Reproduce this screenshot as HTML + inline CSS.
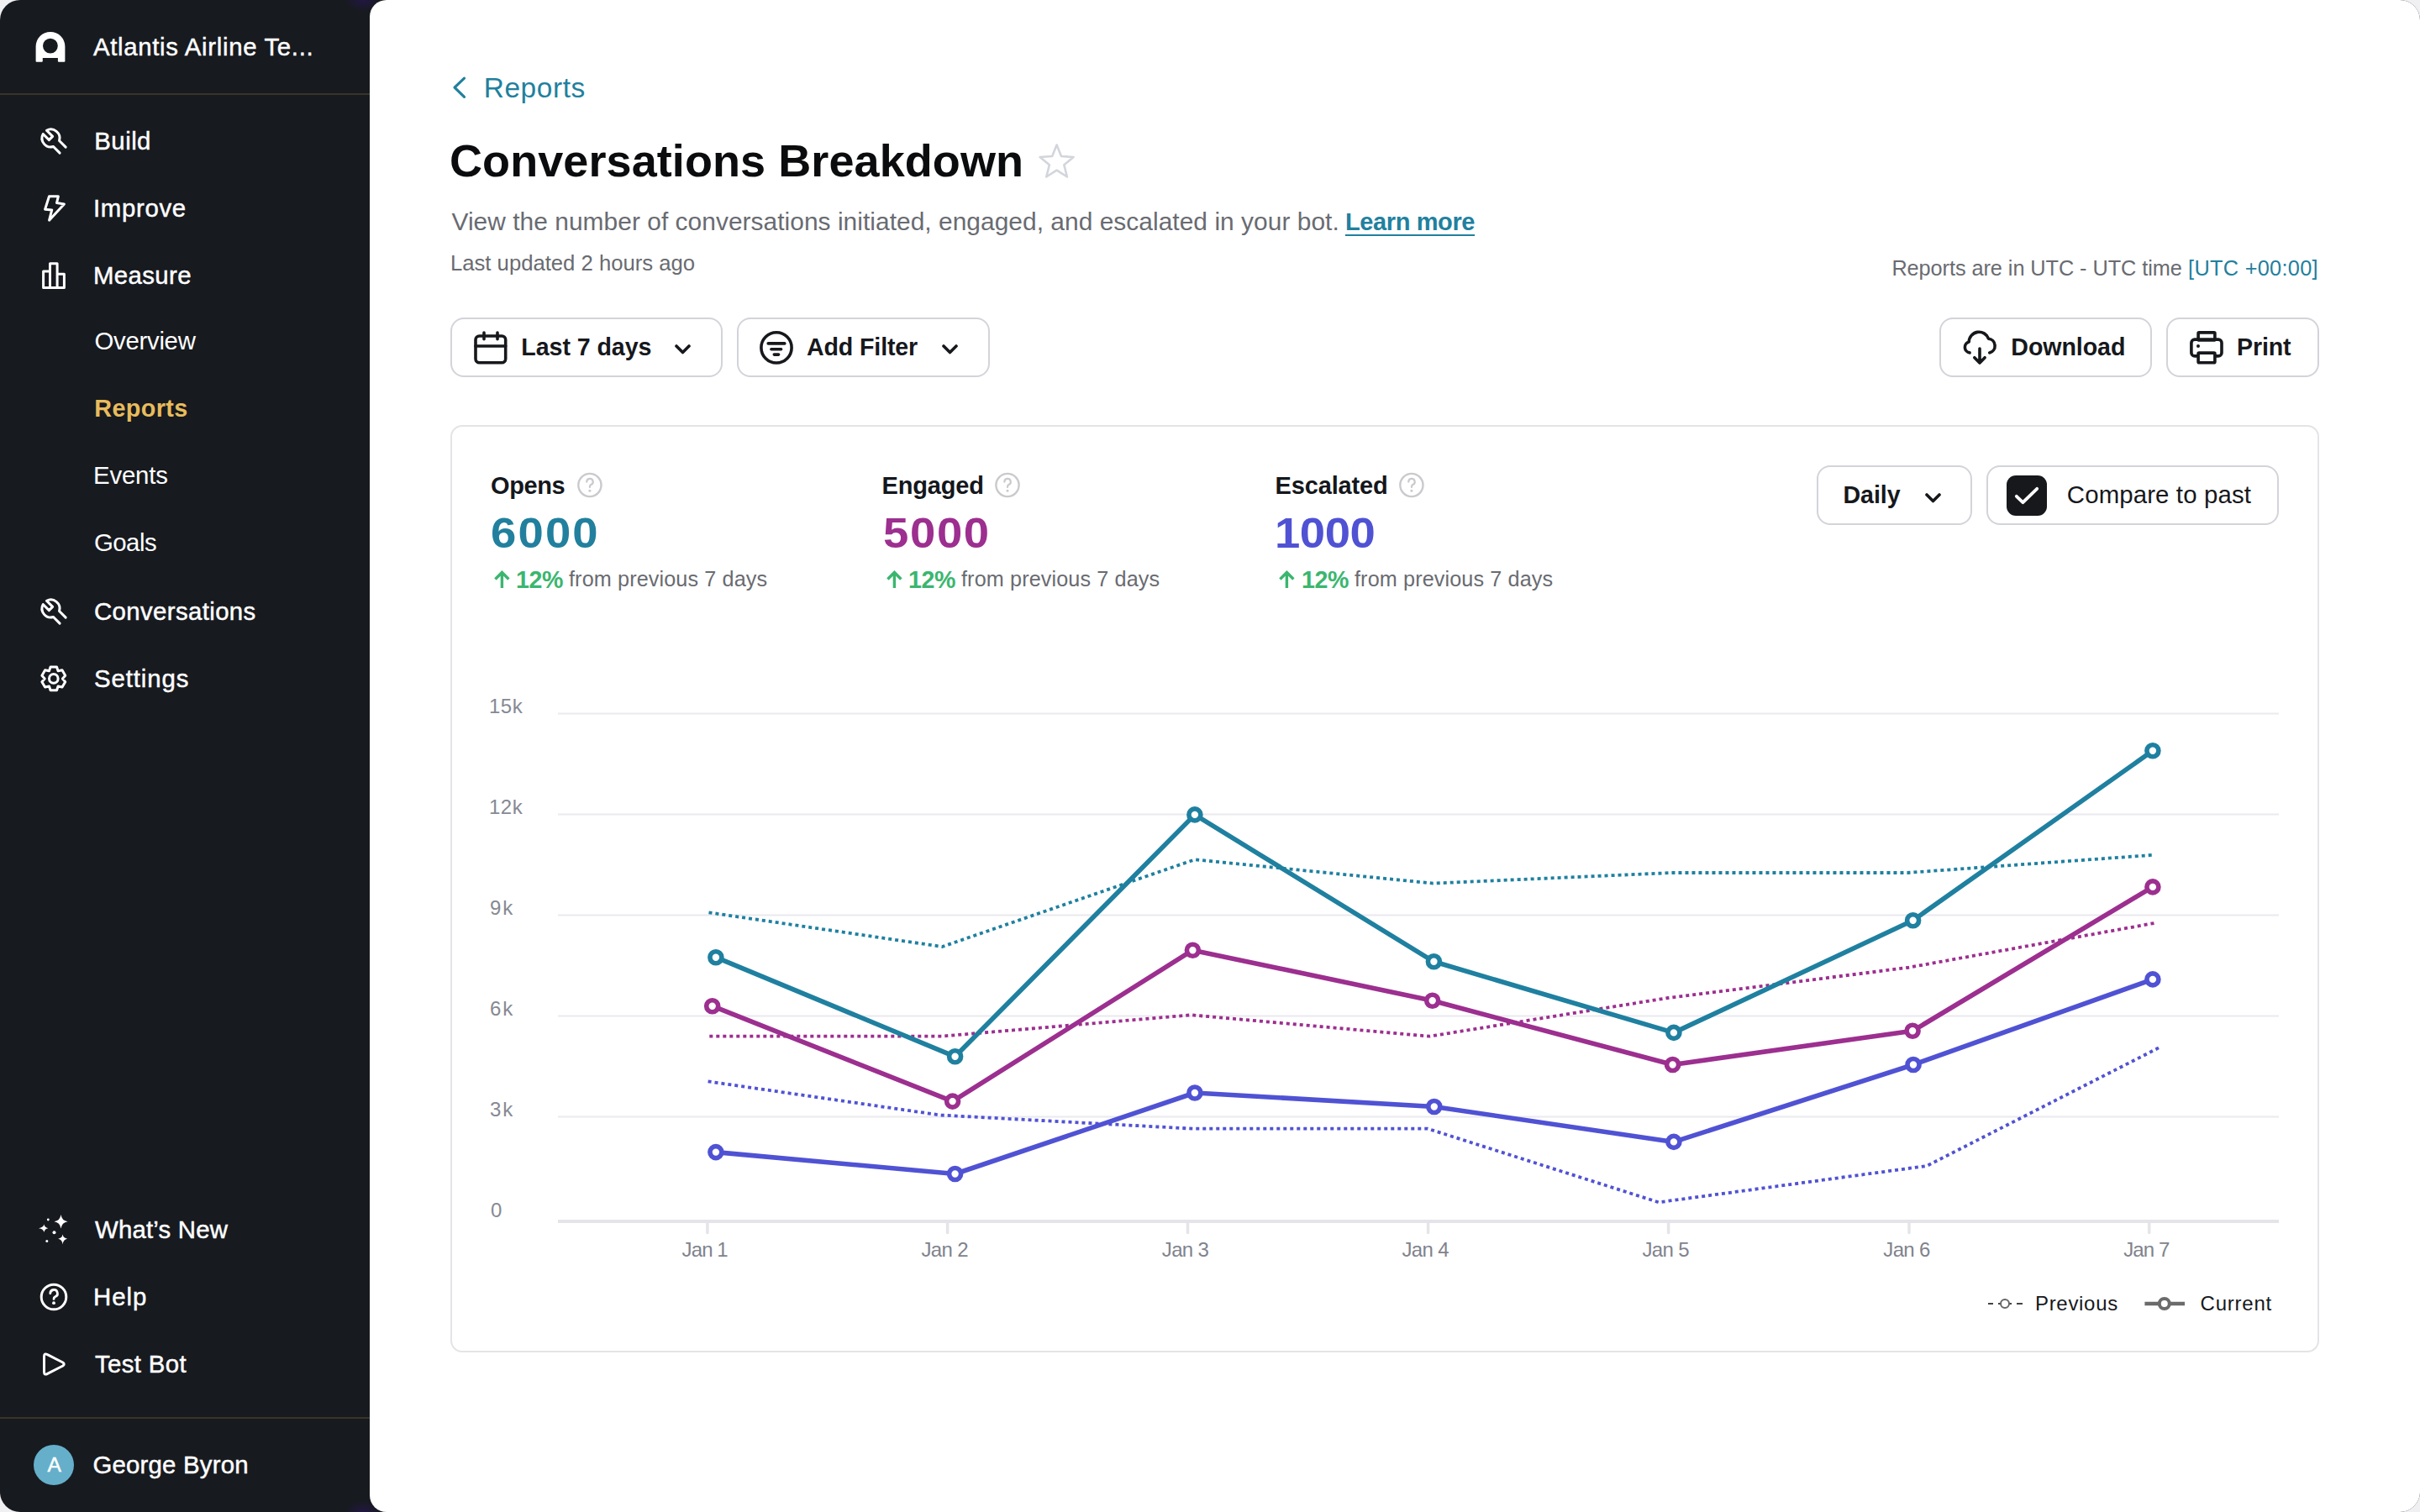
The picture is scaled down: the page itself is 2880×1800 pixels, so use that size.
<!DOCTYPE html><html><head><meta charset="utf-8"><title>Conversations Breakdown</title><style>
*{margin:0;padding:0;box-sizing:border-box}
html,body{width:2880px;height:1800px;overflow:hidden;background:#f0f0f2}
body{font-family:"Liberation Sans",Arial,sans-serif;position:relative}
.app{position:absolute;left:0;top:0;width:2880px;height:1800px;border-radius:24px;overflow:hidden;background:#171a1f}
.main{position:absolute;left:440px;top:0;width:2440px;height:1800px;background:#fff;border-radius:20px 0 0 20px}
.t{position:absolute;line-height:1;white-space:nowrap}
.bl{display:inline-block;width:0;height:0;vertical-align:baseline}
.btn{position:absolute;border:2px solid #d3d3da;border-radius:16px;background:#fff}
.card{position:absolute;left:536px;top:506px;width:2224px;height:1104px;border:2px solid #e4e4e7;border-radius:14px;background:#fff}
svg{position:absolute;overflow:visible}
@media (max-width:2000px){html{zoom:0.5}}
</style></head><body>
<div class="app">
<svg style="left:0;top:0" width="440" height="1800" viewBox="0 0 440 1800">
<path fill="#fff" fill-rule="evenodd" d="M42.6,72.7 L42.6,55.3 A17.4,17.4 0 0 1 77.4,55.3 L77.4,72.7 Q77.4,73.7 76.4,73.7 L69.9,73.7 Q68.9,73.7 68.9,72.7 L68.9,69 L50.8,69 L50.8,72.7 Q50.8,73.7 49.8,73.7 L43.6,73.7 Q42.6,73.7 42.6,72.7 Z M68.8,54.6 A8.9,8.9 0 1 0 51,54.6 A8.9,8.9 0 1 0 68.8,54.6 Z"/>
<rect x="0" y="111" width="440" height="2" fill="#3a3428"/>
<rect x="0" y="1687" width="440" height="2" fill="#3a3428"/>
<g fill="none" stroke="#fff" stroke-width="3" stroke-linecap="round" stroke-linejoin="round">
<g transform="translate(60.5,164.5) rotate(45)"><path d="M-10.06,-3 L0,-3 L0,3 L-10.06,3 M-10.06,-3 A10.5,10.5 0 0 1 9.23,-5 M-10.06,3 A10.5,10.5 0 0 0 9.23,5 M9.23,-5 L20,-5 M9.23,5 L20,5"/></g>
<path d="M58.5,233.7 L69.4,233.7 L67.5,241.6 L76.4,242.9 L58.6,262.2 L61.7,249.9 L53.6,249.2 Z"/>
<path d="M51.6,342.5 V323.1 H59.5 V342.5 Z M59.5,342.5 V313.7 H68.1 V342.5 Z M68.1,342.5 V326.3 H76.4 V342.5 Z"/>
<g transform="translate(60.5,724.5) rotate(45)"><path d="M-10.06,-3 L0,-3 L0,3 L-10.06,3 M-10.06,-3 A10.5,10.5 0 0 1 9.23,-5 M-10.06,3 A10.5,10.5 0 0 0 9.23,5 M9.23,-5 L20,-5 M9.23,5 L20,5"/></g>
<path d="M60.07,793.99 L67.53,793.99 L69.10,798.72 L73.98,797.72 L77.71,804.17 L74.40,807.90 L77.71,811.63 L73.98,818.08 L69.10,817.08 L67.53,821.81 L60.07,821.81 L58.50,817.08 L53.62,818.08 L49.89,811.63 L53.20,807.90 L49.89,804.17 L53.62,797.72 L58.50,798.72 Z"/>
<circle cx="63.8" cy="807.9" r="5.3"/>
<circle cx="64" cy="1544" r="14.8"/>
<path d="M59.8,1539.8 A4.3,4.3 0 1 1 65.6,1543.8 Q64,1544.6 64,1546.4" stroke-width="2.8"/>
<path d="M56.5,1612.6 Q52.5,1610.4 52.5,1615 L52.5,1633 Q52.5,1637.6 56.5,1635.4 L74.8,1626 Q77.6,1624 74.8,1622 Z"/>
</g>
<circle cx="64" cy="1551.2" r="1.9" fill="#fff"/>
<g fill="#fff">
<path d="M72.5,1446 Q73.6,1453.3 80.6,1454.2 Q73.6,1455.2 72.5,1462.6 Q71.4,1455.2 64.5,1454.2 Q71.4,1453.3 72.5,1446 Z"/>
<path d="M74.6,1469.5 Q75.3,1474 80.2,1474.7 Q75.3,1475.4 74.6,1481.4 Q73.9,1475.4 69.2,1474.7 Q73.9,1474 74.6,1469.5 Z"/>
<path d="M52.4,1457.6 Q53.1,1461.4 57.4,1462.2 Q53.1,1463 52.4,1467 Q51.7,1463 46,1462.2 Q51.7,1461.4 52.4,1457.6 Z"/>
<circle cx="57.3" cy="1452" r="1.4"/><circle cx="64.5" cy="1467.2" r="2"/><circle cx="55.8" cy="1477.4" r="1.5"/>
</g>
<circle cx="64" cy="1744" r="24" fill="#66afcb"/>
</svg>
<div style="position:absolute;left:410px;top:0;width:44px;height:14px;background:radial-gradient(ellipse at 50% 0%,rgba(45,20,100,0.5),rgba(45,20,100,0) 70%)"></div>
<div style="position:absolute;left:410px;top:1786px;width:44px;height:14px;background:radial-gradient(ellipse at 50% 100%,rgba(45,20,100,0.5),rgba(45,20,100,0) 70%)"></div>
<div class="main"></div>
<div class="btn" style="left:536px;top:378px;width:324px;height:71px"></div>
<div class="btn" style="left:877px;top:378px;width:301px;height:71px"></div>
<div class="btn" style="left:2308px;top:378px;width:253px;height:71px"></div>
<div class="btn" style="left:2578px;top:378px;width:182px;height:71px"></div>
<div class="card"></div>
<div class="btn" style="left:2162px;top:554px;width:185px;height:71px"></div>
<div class="btn" style="left:2364px;top:554px;width:348px;height:71px"></div>
<div id="atl" class="t" style="left:110.90px;top:41.00px;font-size:29.4px;color:#ffffff;letter-spacing:0.667px;-webkit-text-stroke:0.45px #fff;">Atlantis Airline Te...<span class="bl"></span></div>
<div id="build" class="t" style="left:112.30px;top:153.00px;font-size:29.4px;color:#ffffff;letter-spacing:0.450px;-webkit-text-stroke:0.45px #fff;">Build<span class="bl"></span></div>
<div id="impr" class="t" style="left:111.00px;top:233.00px;font-size:29.4px;color:#ffffff;letter-spacing:0.667px;-webkit-text-stroke:0.45px #fff;">Improve<span class="bl"></span></div>
<div id="meas" class="t" style="left:111.00px;top:313.00px;font-size:29.4px;color:#ffffff;letter-spacing:0.367px;-webkit-text-stroke:0.45px #fff;">Measure<span class="bl"></span></div>
<div id="over" class="t" style="left:112.50px;top:391.00px;font-size:29.4px;color:#ffffff;letter-spacing:-0.300px;">Overview<span class="bl"></span></div>
<div id="repS" class="t" style="left:112.30px;top:472.01px;font-size:28.8px;color:#e8bc5d;font-weight:700;letter-spacing:0.367px;">Reports<span class="bl"></span></div>
<div id="evts" class="t" style="left:111.00px;top:551.00px;font-size:29.4px;color:#ffffff;letter-spacing:-0.200px;">Events<span class="bl"></span></div>
<div id="goals" class="t" style="left:112.00px;top:631.00px;font-size:29.4px;color:#ffffff;letter-spacing:-0.550px;">Goals<span class="bl"></span></div>
<div id="conv" class="t" style="left:112.00px;top:713.00px;font-size:29.4px;color:#ffffff;letter-spacing:0.367px;-webkit-text-stroke:0.45px #fff;">Conversations<span class="bl"></span></div>
<div id="sett" class="t" style="left:112.00px;top:793.00px;font-size:29.4px;color:#ffffff;letter-spacing:0.886px;-webkit-text-stroke:0.45px #fff;">Settings<span class="bl"></span></div>
<div id="new" class="t" style="left:113.00px;top:1449.00px;font-size:29.4px;color:#ffffff;letter-spacing:0.189px;-webkit-text-stroke:0.45px #fff;">What’s New<span class="bl"></span></div>
<div id="help" class="t" style="left:111.00px;top:1529.00px;font-size:29.4px;color:#ffffff;letter-spacing:0.967px;-webkit-text-stroke:0.45px #fff;">Help<span class="bl"></span></div>
<div id="test" class="t" style="left:113.00px;top:1609.00px;font-size:29.4px;color:#ffffff;letter-spacing:0.343px;-webkit-text-stroke:0.45px #fff;">Test Bot<span class="bl"></span></div>
<div id="geo" class="t" style="left:110.40px;top:1729.00px;font-size:29.4px;color:#ffffff;letter-spacing:0.200px;-webkit-text-stroke:0.45px #fff;">George Byron<span class="bl"></span></div>
<div id="crumb" class="t" style="left:575.70px;top:88.01px;font-size:33.4px;color:#21809e;letter-spacing:0.600px;">Reports<span class="bl"></span></div>
<div id="title" class="t" style="left:535.00px;top:164.01px;font-size:54px;color:#0b0c0e;font-weight:700;letter-spacing:0.082px;">Conversations Breakdown<span class="bl"></span></div>
<div id="desc" class="t" style="left:537.50px;top:249.00px;font-size:29.9px;color:#696b71;letter-spacing:0.042px;">View the number of conversations initiated, engaged, and escalated in your bot.<span class="bl"></span></div>
<div id="learn" class="t" style="left:1600.90px;top:250.01px;font-size:29px;color:#21809e;font-weight:700;letter-spacing:-0.378px;text-decoration:underline;text-decoration-thickness:2px;text-underline-offset:5px;">Learn more<span class="bl"></span></div>
<div id="upd" class="t" style="left:536.00px;top:301.01px;font-size:25.7px;color:#696b71;letter-spacing:-0.014px;">Last updated 2 hours ago<span class="bl"></span></div>
<div id="utc" class="t" style="left:2251.40px;top:307.01px;font-size:25.3px;color:#696b71;letter-spacing:-0.063px;">Reports are in UTC - UTC time<span class="bl"></span></div>
<div id="utc2" class="t" style="left:2604.10px;top:307.01px;font-size:25.3px;color:#21809e;letter-spacing:0.298px;">[UTC +00:00]<span class="bl"></span></div>
<div id="l7" class="t" style="left:620.30px;top:399.01px;font-size:28.6px;color:#16181c;font-weight:700;letter-spacing:-0.060px;">Last 7 days<span class="bl"></span></div>
<div id="filt" class="t" style="left:960.00px;top:399.01px;font-size:28.6px;color:#16181c;font-weight:700;letter-spacing:-0.133px;">Add Filter<span class="bl"></span></div>
<div id="down" class="t" style="left:2393.30px;top:399.01px;font-size:28.6px;color:#16181c;font-weight:700;letter-spacing:-0.071px;">Download<span class="bl"></span></div>
<div id="print" class="t" style="left:2662.00px;top:399.01px;font-size:28.6px;color:#16181c;font-weight:700;letter-spacing:-0.150px;">Print<span class="bl"></span></div>
<div id="opens" class="t" style="left:584.00px;top:564.01px;font-size:29px;color:#14171c;font-weight:700;letter-spacing:-0.400px;">Opens<span class="bl"></span></div>
<div id="eng" class="t" style="left:1049.60px;top:564.01px;font-size:29px;color:#14171c;font-weight:700;letter-spacing:-0.167px;">Engaged<span class="bl"></span></div>
<div id="esc" class="t" style="left:1517.50px;top:564.01px;font-size:29px;color:#14171c;font-weight:700;letter-spacing:-0.150px;">Escalated<span class="bl"></span></div>
<div id="v1" class="t" style="left:583.60px;top:610.00px;font-size:50px;color:#21809e;font-weight:700;letter-spacing:1.967px;transform:scaleX(1.09);transform-origin:0 0;">6000<span class="bl"></span></div>
<div id="v2" class="t" style="left:1050.50px;top:610.00px;font-size:50px;color:#9c2f8f;font-weight:700;letter-spacing:1.500px;transform:scaleX(1.09);transform-origin:0 0;">5000<span class="bl"></span></div>
<div id="v3" class="t" style="left:1516.50px;top:610.00px;font-size:50px;color:#5052d4;font-weight:700;letter-spacing:-0.433px;transform:scaleX(1.09);transform-origin:0 0;">1000<span class="bl"></span></div>
<div id="p0" class="t" style="left:614.00px;top:676.01px;font-size:28.6px;color:#3bb66f;font-weight:700;letter-spacing:-0.400px;">12%<span class="bl"></span></div>
<div id="f0" class="t" style="left:677.00px;top:677.01px;font-size:25.2px;color:#696b71;letter-spacing:0.126px;">from previous 7 days<span class="bl"></span></div>
<div id="p1" class="t" style="left:1081.00px;top:676.01px;font-size:28.6px;color:#3bb66f;font-weight:700;letter-spacing:-0.400px;">12%<span class="bl"></span></div>
<div id="f1" class="t" style="left:1144.00px;top:677.01px;font-size:25.2px;color:#696b71;letter-spacing:0.126px;">from previous 7 days<span class="bl"></span></div>
<div id="p2" class="t" style="left:1549.00px;top:676.01px;font-size:28.6px;color:#3bb66f;font-weight:700;letter-spacing:-0.400px;">12%<span class="bl"></span></div>
<div id="f2" class="t" style="left:1612.00px;top:677.01px;font-size:25.2px;color:#696b71;letter-spacing:0.126px;">from previous 7 days<span class="bl"></span></div>
<div id="daily" class="t" style="left:2193.50px;top:575.01px;font-size:28.6px;color:#16181c;font-weight:700;letter-spacing:-0.050px;">Daily<span class="bl"></span></div>
<div id="cmp" class="t" style="left:2459.80px;top:574.00px;font-size:29.4px;color:#16181c;letter-spacing:0.129px;">Compare to past<span class="bl"></span></div>
<div id="y0" class="t" style="left:582.00px;top:829.01px;font-size:24px;color:#868993;letter-spacing:0.500px;">15k<span class="bl"></span></div>
<div id="y1" class="t" style="left:582.00px;top:949.01px;font-size:24px;color:#868993;letter-spacing:0.500px;">12k<span class="bl"></span></div>
<div id="y2" class="t" style="left:583.00px;top:1069.01px;font-size:24px;color:#868993;letter-spacing:2.000px;">9k<span class="bl"></span></div>
<div id="y3" class="t" style="left:583.00px;top:1189.01px;font-size:24px;color:#868993;letter-spacing:2.000px;">6k<span class="bl"></span></div>
<div id="y4" class="t" style="left:583.00px;top:1309.01px;font-size:24px;color:#868993;letter-spacing:2.000px;">3k<span class="bl"></span></div>
<div id="y5" class="t" style="left:584.00px;top:1429.01px;font-size:24px;color:#868993;">0<span class="bl"></span></div>
<div id="x0" class="t" style="left:811.60px;top:1476.01px;font-size:24px;color:#80838d;letter-spacing:-0.900px;">Jan 1<span class="bl"></span></div>
<div id="x1" class="t" style="left:1096.50px;top:1476.01px;font-size:24px;color:#80838d;letter-spacing:-0.650px;">Jan 2<span class="bl"></span></div>
<div id="x2" class="t" style="left:1382.80px;top:1476.01px;font-size:24px;color:#80838d;letter-spacing:-0.650px;">Jan 3<span class="bl"></span></div>
<div id="x3" class="t" style="left:1668.50px;top:1476.01px;font-size:24px;color:#80838d;letter-spacing:-0.650px;">Jan 4<span class="bl"></span></div>
<div id="x4" class="t" style="left:1954.50px;top:1476.01px;font-size:24px;color:#80838d;letter-spacing:-0.650px;">Jan 5<span class="bl"></span></div>
<div id="x5" class="t" style="left:2241.30px;top:1476.01px;font-size:24px;color:#80838d;letter-spacing:-0.650px;">Jan 6<span class="bl"></span></div>
<div id="x6" class="t" style="left:2527.20px;top:1476.01px;font-size:24px;color:#80838d;letter-spacing:-0.900px;">Jan 7<span class="bl"></span></div>
<div id="prev" class="t" style="left:2422.00px;top:1540.01px;font-size:24px;color:#16181c;letter-spacing:0.686px;">Previous<span class="bl"></span></div>
<div id="curr" class="t" style="left:2618.60px;top:1540.01px;font-size:24px;color:#16181c;letter-spacing:0.767px;">Current<span class="bl"></span></div>
<div id="av" class="t" style="left:56.60px;top:1732.01px;font-size:24.5px;color:#ffffff;-webkit-text-stroke:0.45px #fff;">A<span class="bl"></span></div>
<svg style="left:0;top:0" width="2880" height="1800" viewBox="0 0 2880 1800">
<path d="M552.5,93.2 L541,104.2 L552.5,115.3" fill="none" stroke="#21809e" stroke-width="3.2" stroke-linecap="round" stroke-linejoin="round"/>
<path d="M1257.60,172.50 L1263.01,186.06 L1277.57,187.01 L1266.35,196.34 L1269.94,210.49 L1257.60,202.70 L1245.26,210.49 L1248.85,196.34 L1237.63,187.01 L1252.19,186.06 Z" fill="none" stroke="#d3d5dc" stroke-width="2.6" stroke-linejoin="round"/>
<g fill="none" stroke="#16181c" stroke-width="3.6" stroke-linecap="round" stroke-linejoin="round">
<rect x="566" y="400" width="35.7" height="31.7" rx="4.5"/>
<path d="M566,412 H601.7 M576,396.1 V403.7 M592,396.1 V403.7"/>
<circle cx="924" cy="413.9" r="18.1"/>
<path d="M914.2,408.9 H933.8 M917.9,415.7 H929.6 M921.3,422.1 H926.6"/>
<path d="M805,412 L812.5,419.5 L820,412 M1123,412 L1130.5,419.5 L1138,412 M2293,589 L2300.5,596.5 L2308,589"/>
<path d="M2344.1,419.9 A6.6,6.6 0 0 1 2343.2,407 A12,12 0 0 1 2366.5,403.2 A8.5,8.5 0 0 1 2367.7,419.9 M2356,415 V432 M2349.8,425.7 L2356,432 L2362.1,425.7"/>
<rect x="2616.1" y="395.9" width="19.8" height="9" rx="1"/>
<rect x="2607.9" y="404.1" width="36.1" height="19.8" rx="4"/>
<rect x="2616.1" y="420.1" width="19.8" height="11.7" rx="1" fill="#fff"/>
</g>
<circle cx="2616" cy="412" r="2" fill="#16181c"/>
<circle cx="701.9" cy="577.5" r="13.6" fill="none" stroke="#cacace" stroke-width="2.4"/>
<path d="M698.3,573.6 A3.7,3.7 0 1 1 703.1999999999999,577 Q701.9,577.8 701.9,580" fill="none" stroke="#cacace" stroke-width="2.2" stroke-linecap="round"/>
<circle cx="701.9" cy="584.3" r="1.5" fill="#cacace"/>
<circle cx="1199" cy="577.5" r="13.6" fill="none" stroke="#cacace" stroke-width="2.4"/>
<path d="M1195.4,573.6 A3.7,3.7 0 1 1 1200.3,577 Q1199,577.8 1199,580" fill="none" stroke="#cacace" stroke-width="2.2" stroke-linecap="round"/>
<circle cx="1199" cy="584.3" r="1.5" fill="#cacace"/>
<circle cx="1679.9" cy="577.5" r="13.6" fill="none" stroke="#cacace" stroke-width="2.4"/>
<path d="M1676.3000000000002,573.6 A3.7,3.7 0 1 1 1681.2,577 Q1679.9,577.8 1679.9,580" fill="none" stroke="#cacace" stroke-width="2.2" stroke-linecap="round"/>
<circle cx="1679.9" cy="584.3" r="1.5" fill="#cacace"/>
<path d="M597.4,700 V681.5 M589.4,689.5 L597.4,681.5 L605.4,689.5" fill="none" stroke="#3bb66f" stroke-width="3.4" stroke-linecap="butt" stroke-linejoin="miter"/>
<path d="M1064.4,700 V681.5 M1056.4,689.5 L1064.4,681.5 L1072.4,689.5" fill="none" stroke="#3bb66f" stroke-width="3.4" stroke-linecap="butt" stroke-linejoin="miter"/>
<path d="M1531.4,700 V681.5 M1523.4,689.5 L1531.4,681.5 L1539.4,689.5" fill="none" stroke="#3bb66f" stroke-width="3.4" stroke-linecap="butt" stroke-linejoin="miter"/>
<rect x="2388" y="566" width="48" height="48" rx="11" fill="#16181c"/>
<path d="M2399.8,590.8 L2407.4,598.2 L2424.2,581.8" fill="none" stroke="#fff" stroke-width="3.8" stroke-linecap="round" stroke-linejoin="round"/>
<rect x="664" y="848.5" width="2048" height="2" fill="#eaeaef"/>
<rect x="664" y="968.5" width="2048" height="2" fill="#eaeaef"/>
<rect x="664" y="1088.5" width="2048" height="2" fill="#eaeaef"/>
<rect x="664" y="1208.5" width="2048" height="2" fill="#eaeaef"/>
<rect x="664" y="1328.5" width="2048" height="2" fill="#eaeaef"/>
<rect x="664" y="1452" width="2048" height="4" fill="#e4e4e9"/>
<line x1="841.9" y1="1456" x2="841.9" y2="1467.5" stroke="#e4e4e9" stroke-width="3.5" stroke-linecap="round"/>
<line x1="1127.6" y1="1456" x2="1127.6" y2="1467.5" stroke="#e4e4e9" stroke-width="3.5" stroke-linecap="round"/>
<line x1="1413.5" y1="1456" x2="1413.5" y2="1467.5" stroke="#e4e4e9" stroke-width="3.5" stroke-linecap="round"/>
<line x1="1699.6" y1="1456" x2="1699.6" y2="1467.5" stroke="#e4e4e9" stroke-width="3.5" stroke-linecap="round"/>
<line x1="1985.6" y1="1456" x2="1985.6" y2="1467.5" stroke="#e4e4e9" stroke-width="3.5" stroke-linecap="round"/>
<line x1="2272" y1="1456" x2="2272" y2="1467.5" stroke="#e4e4e9" stroke-width="3.5" stroke-linecap="round"/>
<line x1="2557.7" y1="1456" x2="2557.7" y2="1467.5" stroke="#e4e4e9" stroke-width="3.5" stroke-linecap="round"/>
<path d="M843.5,1086.3 L1121.3,1127 L1421.9,1023.3 L1705.6,1051.6 L1990,1039 L2270,1039 L2563,1017.8" fill="none" stroke="#1f80a0" stroke-width="3.8" stroke-dasharray="4 4"/>
<path d="M844.3,1233.6 L1121,1233.6 L1417.7,1208.3 L1701.3,1233.7 L1985,1188 L2270,1152 L2563.6,1099" fill="none" stroke="#9c2f8f" stroke-width="3.8" stroke-dasharray="4 4"/>
<path d="M842.6,1287.4 L1119,1327.5 L1420,1343.7 L1699.2,1343.7 L1974,1431.3 L2293,1388 L2571.2,1246.3" fill="none" stroke="#5052d4" stroke-width="3.8" stroke-dasharray="4 4"/>
<path d="M851.9,1139.7 L1136.6,1257.8 L1421.9,969.9 L1706.4,1144.8 L1991.9,1229.4 L2276.6,1095.7 L2561.9,893.8" fill="none" stroke="#1f80a0" stroke-width="5.6" stroke-linejoin="round"/>
<circle cx="851.9" cy="1139.7" r="7" fill="#fff" stroke="#1f80a0" stroke-width="5.6"/>
<circle cx="1136.6" cy="1257.8" r="7" fill="#fff" stroke="#1f80a0" stroke-width="5.6"/>
<circle cx="1421.9" cy="969.9" r="7" fill="#fff" stroke="#1f80a0" stroke-width="5.6"/>
<circle cx="1706.4" cy="1144.8" r="7" fill="#fff" stroke="#1f80a0" stroke-width="5.6"/>
<circle cx="1991.9" cy="1229.4" r="7" fill="#fff" stroke="#1f80a0" stroke-width="5.6"/>
<circle cx="2276.6" cy="1095.7" r="7" fill="#fff" stroke="#1f80a0" stroke-width="5.6"/>
<circle cx="2561.9" cy="893.8" r="7" fill="#fff" stroke="#1f80a0" stroke-width="5.6"/>
<path d="M847.7,1197.7 L1133.6,1311.1 L1419.4,1131.2 L1704.7,1191.3 L1990.6,1267.5 L2276.1,1227.3 L2561.9,1055.9" fill="none" stroke="#9c2f8f" stroke-width="5.6" stroke-linejoin="round"/>
<circle cx="847.7" cy="1197.7" r="7" fill="#fff" stroke="#9c2f8f" stroke-width="5.6"/>
<circle cx="1133.6" cy="1311.1" r="7" fill="#fff" stroke="#9c2f8f" stroke-width="5.6"/>
<circle cx="1419.4" cy="1131.2" r="7" fill="#fff" stroke="#9c2f8f" stroke-width="5.6"/>
<circle cx="1704.7" cy="1191.3" r="7" fill="#fff" stroke="#9c2f8f" stroke-width="5.6"/>
<circle cx="1990.6" cy="1267.5" r="7" fill="#fff" stroke="#9c2f8f" stroke-width="5.6"/>
<circle cx="2276.1" cy="1227.3" r="7" fill="#fff" stroke="#9c2f8f" stroke-width="5.6"/>
<circle cx="2561.9" cy="1055.9" r="7" fill="#fff" stroke="#9c2f8f" stroke-width="5.6"/>
<path d="M851.9,1371.6 L1136.6,1397.5 L1421.9,1301 L1706.8,1317.5 L1991.9,1359.4 L2277,1267.5 L2561.9,1165.9" fill="none" stroke="#5052d4" stroke-width="5.6" stroke-linejoin="round"/>
<circle cx="851.9" cy="1371.6" r="7" fill="#fff" stroke="#5052d4" stroke-width="5.6"/>
<circle cx="1136.6" cy="1397.5" r="7" fill="#fff" stroke="#5052d4" stroke-width="5.6"/>
<circle cx="1421.9" cy="1301" r="7" fill="#fff" stroke="#5052d4" stroke-width="5.6"/>
<circle cx="1706.8" cy="1317.5" r="7" fill="#fff" stroke="#5052d4" stroke-width="5.6"/>
<circle cx="1991.9" cy="1359.4" r="7" fill="#fff" stroke="#5052d4" stroke-width="5.6"/>
<circle cx="2277" cy="1267.5" r="7" fill="#fff" stroke="#5052d4" stroke-width="5.6"/>
<circle cx="2561.9" cy="1165.9" r="7" fill="#fff" stroke="#5052d4" stroke-width="5.6"/>
<path d="M2366,1552 H2372 M2378,1552 H2381 M2391,1552 H2394 M2400,1552 H2407" stroke="#444" stroke-width="2"/>
<circle cx="2386" cy="1552" r="5" fill="#fff" stroke="#666" stroke-width="2"/>
<path d="M2552.4,1552 H2600" stroke="#6b6b6b" stroke-width="4.4"/>
<circle cx="2575.8" cy="1552" r="6" fill="#fff" stroke="#6b6b6b" stroke-width="4"/>
</svg>
</div>
</body></html>
